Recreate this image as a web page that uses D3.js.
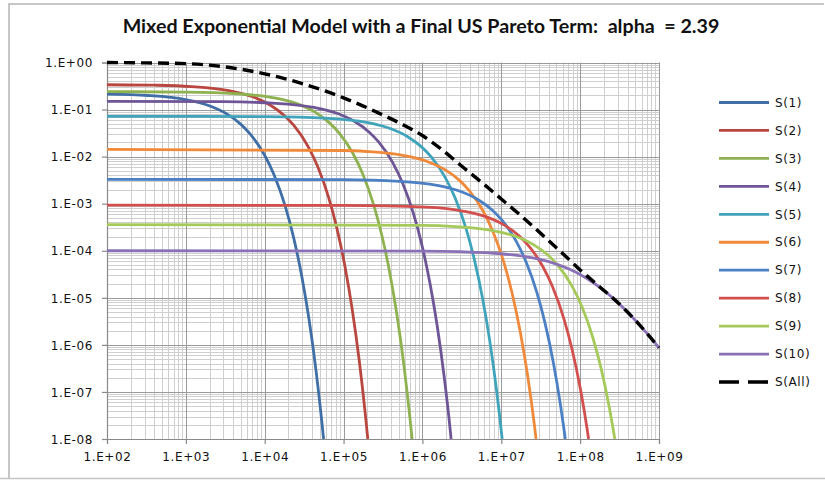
<!DOCTYPE html>
<html><head><meta charset="utf-8">
<script src="https://cdn.jsdelivr.net/npm/d3@7"></script>
<style>
html,body{margin:0;padding:0;background:#fff;}
svg{display:block;}
</style></head>
<body>
<svg id="chart" width="825" height="480"></svg>
<script>
// ---------- data ----------
const chartTitle = "Mixed Exponential Model with a Final US Pareto Term:  alpha  = 2.39";
const xTickValues = [1e2,1e3,1e4,1e5,1e6,1e7,1e8,1e9];
const xTickLabels = ["1.E+02","1.E+03","1.E+04","1.E+05","1.E+06","1.E+07","1.E+08","1.E+09"];
const yTickValues = [1e0,1e-1,1e-2,1e-3,1e-4,1e-5,1e-6,1e-7,1e-8];
const yTickLabels = ["1.E+00","1.E-01","1.E-02","1.E-03","1.E-04","1.E-05","1.E-06","1.E-07","1.E-08"];
const seriesNames = ["S(1)","S(2)","S(3)","S(4)","S(5)","S(6)","S(7)","S(8)","S(9)","S(10)","S(All)"];

const s1 = [[100,0.213],[330,0.199],[990,0.163],[1980,0.1205],[3300,0.0809],[4950,0.0491],[6600,0.0297],[9900,0.01094],[13200,0.00403],[18150,8.97e-4],[23100,2.0e-4],[29700,2.71e-5],[36300,3.67e-6],[44550,3.01e-7],[52800,2.47e-8],[55800,1e-8]];
const s2 = [[100,0.337],[400,0.329],[1170,0.308],[3510,0.252],[7020,0.187],[11700,0.125],[17550,0.0758],[23400,0.0459],[35100,0.01693],[46800,0.00622],[64350,0.00139],[81900,3.10e-4],[105300,4.20e-5],[128700,5.68e-6],[157950,4.66e-7],[187200,3.83e-8],[202900,1e-8]];
const s3 = [[100,0.24],[1000,0.2345],[4350,0.217],[13050,0.178],[26100,0.132],[43500,0.0883],[65250,0.0535],[87000,0.0324],[130500,0.01195],[174000,0.00439],[239250,9.82e-4],[304500,2.19e-4],[391500,2.96e-5],[478500,4.01e-6],[587250,3.29e-7],[696000,2.70e-8],[739000,1e-8]];
const s4 = [[100,0.15],[3000,0.147],[14000,0.136],[42000,0.111],[84000,0.0824],[140000,0.0552],[210000,0.0335],[280000,0.0203],[420000,0.00747],[560000,0.00275],[770000,6.14e-4],[980000,1.37e-4],[1260000,1.85e-5],[1540000,2.51e-6],[1890000,2.06e-7],[2240000,1.69e-8],[2310000,1e-8]];
const s5 = [[100,0.072],[10000,0.0709],[65000,0.0652],[195000,0.0534],[390000,0.0395],[650000,0.0265],[975000,0.0161],[1300000,0.00972],[1950000,0.00359],[2600000,0.00132],[3575000,2.94e-4],[4550000,6.57e-5],[5850000,8.88e-6],[7150000,1.20e-6],[8775000,9.86e-8],[9555000,2.97e-8],[10260000,1e-8]];
const s6 = [[100,0.0142],[100000,0.0135],[195000,0.01285],[585000,0.01052],[1170000,0.0078],[1950000,0.00523],[2925000,0.00317],[3900000,0.00192],[5850000,7.07e-4],[7800000,2.60e-4],[10725000,5.81e-5],[13650000,1.30e-5],[17550000,1.75e-6],[21450000,2.37e-7],[26325000,1.95e-8],[27600000,1e-8]];
const s7 = [[100,0.0033],[100000,0.00324],[510000,0.00299],[1530000,0.00245],[3060000,0.00181],[5100000,0.00121],[7650000,7.36e-4],[10200000,4.46e-4],[15300000,1.64e-4],[20400000,6.04e-5],[28050000,1.35e-5],[35700000,3.01e-6],[45900000,4.07e-7],[56100000,5.51e-8],[61200000,2.03e-8],[64800000,1e-8]];
const s8 = [[100,0.00093],[100000,0.00092],[1120000,8.42e-4],[3360000,6.89e-4],[6720000,5.11e-4],[11200000,3.42e-4],[16800000,2.07e-4],[22400000,1.26e-4],[33600000,4.63e-5],[44800000,1.70e-5],[61600000,3.80e-6],[78400000,8.48e-7],[100800000,1.15e-7],[123200000,1.55e-8],[128000000,1e-8]];
const s9 = [[100,3.6e-4],[1000000,3.47e-4],[2620000,3.26e-4],[7860000,2.67e-4],[15720000,1.98e-4],[26200000,1.32e-4],[39300000,8.03e-5],[52400000,4.86e-5],[78600000,1.79e-5],[104800000,6.59e-6],[144100000,1.47e-6],[183400000,3.28e-7],[235800000,4.44e-8],[262000000,1.63e-8],[275000000,1e-8]];
const s10 = [[100,1e-4],[1000000,9.85e-5],[3000000,9.56e-5],[10000000,8.64e-5],[20000000,7.53e-5],[30000000,6.61e-5],[50000000,5.20e-5],[70000000,4.18e-5],[100000000,3.12e-5],[150000000,2.04e-5],[200000000,1.43e-5],[300000000,7.94e-6],[500000000,3.34e-6],[700000000,1.77e-6],[1000000000,8.68e-7]];
const sAll = [[100,1.0],[316,0.98],[1000,0.948],[3162,0.804],[10000,0.575],[17780,0.456],[31623,0.346],[56230,0.2537],[100000,0.1774],[177800,0.1185],[316228,0.0765],[562300,0.04795],[1000000,0.0281],[1778000,0.01393],[3162000,0.00626],[5623000,0.00285],[10000000,0.00126],[17780000,5.53e-4],[31620000,2.34e-4],[56230000,9.68e-5],[100000000,3.92e-5],[177800000,1.70e-5],[316200000,7.32e-6],[562300000,2.70e-6],[1000000000,8.68e-7]];

const seriesData = [s1,s2,s3,s4,s5,s6,s7,s8,s9,s10,sAll];

// ---------- styles ----------
const colors = ["#3F6FA6","#B9473F","#8DB24F","#6E5596","#3FA4BB","#F08A3A","#4C80C4","#D24F4E","#A6CA5A","#8A70B6","#000000"];
const labelFont = "'DejaVu Sans', sans-serif";

const svg = d3.select("#chart");
const L = 107, R = 659, T = 62.5, B = 439;

// outer frame
svg.append("path")
  .attr("d", `M9,478.5 L9,4 L824,4`)
  .attr("fill","none").attr("stroke","#b4b4b4").attr("stroke-width",1.5);
svg.append("line").attr("x1",0).attr("x2",825).attr("y1",478.5).attr("y2",478.5)
  .attr("stroke","#c4c4c4").attr("stroke-width",1.5);

const x = d3.scaleLog().domain([1e2,1e9]).range([L,R]);
const y = d3.scaleLog().domain([1e-8,1]).range([B,T]);

// grid
const grid = svg.append("g");
const xMinor = [], yMinor = [];
for (let d = 2; d < 9; d++) for (let k = 2; k <= 9; k++) xMinor.push(k*Math.pow(10,d));
for (let d = -8; d < 0; d++) for (let k = 2; k <= 9; k++) yMinor.push(k*Math.pow(10,d));
grid.selectAll("line.xm").data(xMinor).join("line")
  .attr("x1",d=>Math.round(x(d))+0.5).attr("x2",d=>Math.round(x(d))+0.5)
  .attr("y1",T).attr("y2",B).attr("stroke","#cfcfcf").attr("stroke-width",1);
grid.selectAll("line.ym").data(yMinor).join("line")
  .attr("y1",d=>Math.round(y(d))+0.5).attr("y2",d=>Math.round(y(d))+0.5)
  .attr("x1",L).attr("x2",R).attr("stroke","#cfcfcf").attr("stroke-width",1);
grid.selectAll("line.xM").data(xTickValues).join("line")
  .attr("x1",d=>Math.round(x(d))+0.5).attr("x2",d=>Math.round(x(d))+0.5)
  .attr("y1",T).attr("y2",B).attr("stroke","#9a9a9a").attr("stroke-width",1);
grid.selectAll("line.yM").data(yTickValues).join("line")
  .attr("y1",d=>Math.round(y(d))+0.5).attr("y2",d=>Math.round(y(d))+0.5)
  .attr("x1",L).attr("x2",R).attr("stroke","#9a9a9a").attr("stroke-width",1);

// axes
const xAxis = d3.axisBottom(x).tickValues(xTickValues)
  .tickFormat((d,i)=>xTickLabels[i]).tickSize(5).tickPadding(8);
const yAxis = d3.axisLeft(y).tickValues(yTickValues)
  .tickFormat((d,i)=>yTickLabels[i]).tickSize(5).tickPadding(9);
const gx = svg.append("g").attr("transform",`translate(0,${B})`).call(xAxis);
const gy = svg.append("g").attr("transform",`translate(${L},0)`).call(yAxis);
[gx,gy].forEach(g=>{
  g.select(".domain").attr("stroke","#8a8a8a").attr("stroke-width",1.2);
  g.selectAll(".tick line").attr("stroke","#8a8a8a").attr("stroke-width",1.2);
  g.selectAll(".tick text").attr("fill","#111").style("font-family",labelFont)
    .style("font-size","12px").style("letter-spacing","0.6px");
});
gy.selectAll(".tick text").attr("dy","0.35em");

// curves
const clip = svg.append("clipPath").attr("id","plotclip").append("rect")
  .attr("x",L).attr("y",T-3).attr("width",R-L+3).attr("height",B-T+3);
const line = d3.line().x(d=>x(d[0])).y(d=>y(d[1])).curve(d3.curveMonotoneX);
const plot = svg.append("g").attr("clip-path","url(#plotclip)");
seriesData.forEach((data,i)=>{
  const isAll = i === seriesData.length-1;
  plot.append("path").datum(data).attr("d",line)
    .attr("fill","none").attr("stroke",colors[i])
    .attr("stroke-width", isAll ? 3.4 : 2.8)
    .attr("stroke-dasharray", isAll ? "11,6" : null)
    .attr("stroke-linecap","butt").attr("stroke-linejoin","round");
});

// legend
const legend = svg.append("g");
const legY0 = 102.5, legStep = 27.95;
seriesNames.forEach((name,i)=>{
  const isAll = i === seriesNames.length-1;
  const yy = legY0 + i*legStep;
  legend.append("line").attr("x1",719).attr("x2",769).attr("y1",yy).attr("y2",yy)
    .attr("stroke",colors[i]).attr("stroke-width", isAll ? 3.6 : 2.8)
    .attr("stroke-dasharray", isAll ? "20,9" : null);
  legend.append("text").attr("x",775).attr("y",yy).attr("dy","0.35em")
    .attr("fill","#111").style("font-family",labelFont)
    .style("font-size","12px").style("letter-spacing","0.6px").text(name);
});

// title
const title = svg.append("text").attr("x",421).attr("y",33).attr("text-anchor","middle")
  .attr("fill","#111").style("font-family","Lato, 'Open Sans', sans-serif")
  .style("font-weight","bold").style("font-size","15px").style("white-space","pre")
  .attr("xml:space","preserve").text(chartTitle);
const tl = title.node().getComputedTextLength();
if (tl > 0) title.style("font-size", (15*597/tl).toFixed(2)+"px");
</script>
</body></html>
